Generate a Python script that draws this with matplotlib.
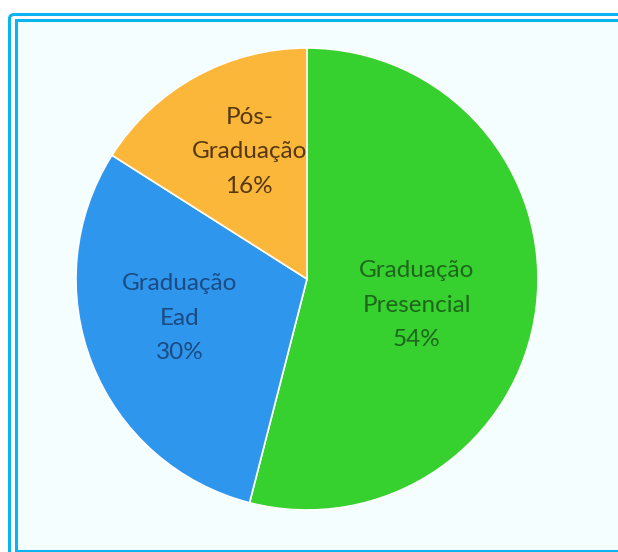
import matplotlib
matplotlib.use("Agg")
import matplotlib.pyplot as plt
from matplotlib.patches import Rectangle, FancyBboxPatch

categories = ["Graduação\nPresencial", "Graduação\nEad", "Pós-\nGraduação"]
values = [54, 30, 16]
colors = ["#36D12F", "#2F96EE", "#FBB73A"]
text_colors = ["#1E661B", "#1B4B82", "#553710"]
label_pos = [(0.476, -0.113), (-0.55, -0.169), (-0.25, 0.55)]

W, H = 618, 552
fig = plt.figure(figsize=(W / 100, H / 100), dpi=100)
fig.patch.set_facecolor("white")

# outer border
fig.patches.append(FancyBboxPatch((9.5 / W, -0.05), 1.0, 1 - 14.5 / H + 0.05,
                                  boxstyle="round,pad=0,rounding_size=0.008",
                                  transform=fig.transFigure, facecolor="white",
                                  edgecolor="#0BB3F0", linewidth=2.2, zorder=-10))
# inner border
fig.patches.append(Rectangle((15.5 / W, 1.5 / H), 1.0, 1 - 21.5 / H,
                             transform=fig.transFigure, facecolor="#F4FEFF",
                             edgecolor="#0BB3F0", linewidth=2.2, zorder=-9))

cx, cy, r = 307, 279, 231
ax = fig.add_axes([(cx - r) / W, (H - cy - r) / H, 2 * r / W, 2 * r / H])
ax.set_zorder(5)
ax.set_facecolor("none")
wedges, _ = ax.pie(values, colors=colors, startangle=90, counterclock=False,
                   radius=1.0, wedgeprops=dict(edgecolor="white", linewidth=1.2))
ax.set_xlim(-1, 1)
ax.set_ylim(-1, 1)
ax.set_aspect("equal")
ax.axis("off")

for cat, v, (x, y), tc in zip(categories, values, label_pos, text_colors):
    ax.text(x, y, f"{cat}\n{v}%", ha="center", va="center", color=tc,
            fontsize=17.5, family="Lato", linespacing=1.81)

fig.savefig("out.png", dpi=100, facecolor=fig.get_facecolor())
